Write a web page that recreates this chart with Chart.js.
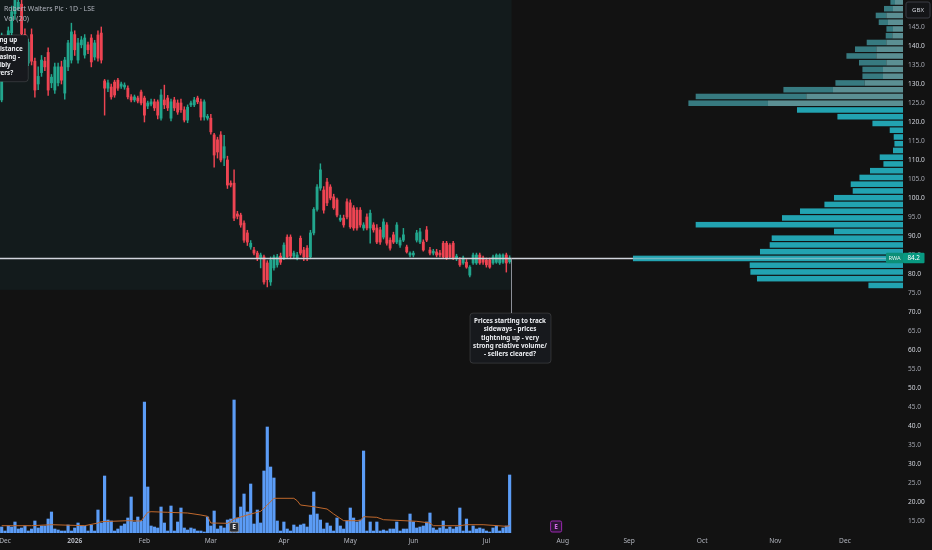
<!DOCTYPE html>
<html>
<head>
<meta charset="utf-8">
<script src="https://cdn.jsdelivr.net/npm/chart.js@4.4.1/dist/chart.umd.min.js"></script>
<style>
    html, body { margin: 0; padding: 0; background: #121212; }
    canvas { display: block; }
</style>
</head>
<body>
<canvas id="rwaChart" width="932" height="550"></canvas>
<script>
(function () {
    "use strict";
    // Robert Walters Plc daily bars, bar -1 = 28 Nov 2025, bar 152 = 10 Jul 2026
    const firstBar = -1;
    const open = [125.8, 136, 140, 143.5, 148.5, 150, 151, 143, 135.5, 143,
        136, 130, 133, 136, 138.3, 130.3, 128.4, 130.3, 134.5, 127.6,
        134.5, 136.3, 143, 136.3, 140.3, 137.6, 140.3, 142.1, 137.1, 142.9,
        143.4, 130.8, 128.9, 129.2, 130.5, 131, 129.4, 129.2, 128.9, 126.6,
        125.8, 126.3, 127.9, 126.3, 124.2, 124.7, 125.3, 125.3, 121, 125.8,
        126.3, 121, 125.8, 125, 125, 123.2, 120.5, 124.5, 124.5, 126.3,
        125.3, 121.3, 121, 121, 116.6, 115.3, 116.6, 110.5, 110, 103.9,
        103.9, 95.8, 95.5, 93.4, 90.8, 87.1, 86.3, 85.5, 84.2, 84.5,
        82.9, 77.9, 81.6, 82.4, 84.7, 84.2, 89.7, 89.7, 84.7, 84.2,
        89.4, 86.3, 86.8, 84.5, 90.8, 97, 102.6, 102.1, 104.2, 102.9,
        100.3, 99.5, 94.2, 94.7, 99, 98.7, 97.4, 96.8, 96.8, 92.1,
        95, 92.1, 92.9, 92.1, 91.6, 89.7, 92.9, 88.9, 90.3, 88.4,
        87.6, 88.9, 87.1, 85, 85, 88.9, 88.4, 88.4, 91.6, 86.3,
        85.5, 85.8, 85.5, 88.1, 88.1, 87.6, 88.1, 84.2, 83.7, 82.9,
        83.1, 79.7, 82.9, 82.9, 85, 84.2, 83.7, 83.7, 82.9, 83.1,
        82.9, 83.1, 85, 83.2];
    const high = [143.4, 141.5, 145, 150.5, 153, 153.5, 152.5, 144.5, 141.8, 144.5,
        136.8, 134.5, 137.5, 137, 139.5, 132.5, 135.5, 135.5, 136, 137,
        141.5, 146, 144, 142, 142.5, 143, 141, 143, 141.5, 144,
        145, 131.2, 131, 130, 131, 131.5, 130.5, 130.3, 129.5, 127.2,
        127.1, 126.8, 128.4, 126.8, 125.5, 126, 126, 125.8, 128.5, 129.7,
        127, 126, 126.5, 125.8, 126, 124, 124.5, 125.5, 126.5, 126.8,
        126, 125.8, 122, 122, 117, 116, 117.5, 116.5, 111, 104.5,
        107.4, 96.5, 96, 94, 91.5, 88.8, 87, 86, 85.5, 85,
        83.5, 84.5, 85, 85.2, 85.5, 88.2, 90.3, 90.3, 86, 85.7,
        90, 87, 87.5, 91.5, 97.5, 103.5, 109, 103, 105.2, 103.5,
        101, 100, 95.5, 95.5, 99.8, 99.5, 98, 97.5, 97.5, 93.5,
        95.8, 96.8, 93.5, 93, 92.3, 94.5, 93.5, 89.5, 91, 93.5,
        89.5, 92, 87.6, 85.8, 86, 91.5, 92, 89, 92.5, 87,
        86.5, 86.5, 86.2, 88.6, 88.6, 88, 88.6, 85.2, 84.3, 84.7,
        83.8, 82.2, 85.5, 85.5, 85.5, 84.7, 84.2, 84.2, 85, 85.3,
        85.3, 85.3, 85.5, 84.8];
    const low = [125.3, 134, 138.5, 142, 147, 149.5, 142, 136, 134.8, 135,
        126.5, 128.5, 132, 133.5, 127, 129, 127.5, 129.5, 130, 126,
        133.5, 135.5, 137.5, 135.5, 139.5, 136.8, 138, 134.5, 136.3, 136,
        135.5, 121.8, 128, 126, 126.5, 128.3, 128.8, 128.6, 126.1, 125.3,
        125.3, 125, 124.5, 120, 123.5, 124.2, 123, 120.8, 120.5, 123.5,
        123, 120.3, 123, 122, 122.5, 120, 119.8, 124, 124, 124.8,
        120.5, 120.5, 120.5, 116.8, 108.1, 110.5, 109.5, 108.5, 102.5, 102.9,
        94, 94.5, 92.3, 88.3, 87.5, 86.5, 85, 83.5, 81.6, 77.3,
        76.6, 77, 81, 81.8, 82.5, 83.8, 84, 84, 84.2, 83.7,
        85, 83.5, 83.5, 84, 90.3, 96.5, 102, 96, 98, 99.5,
        97, 95, 93.8, 92.3, 94.5, 92, 91.5, 91.5, 92.3, 91.5,
        91.6, 88.1, 91, 88, 87.8, 89.2, 87.6, 86.3, 88, 88,
        87, 88.5, 85.5, 84.5, 84.5, 88.4, 88, 86, 88.5, 85,
        85, 84.5, 84.5, 84, 83.8, 84, 83.8, 83.5, 82, 82.5,
        81.5, 79.2, 82.5, 82.5, 82.5, 82.5, 81.8, 81.5, 82.5, 82.8,
        82.5, 82.8, 80.5, 82.8];
    const close = [136.3, 140.5, 144, 149, 152, 151.5, 143.2, 136.8, 141, 136,
        128.4, 132, 136.3, 134.5, 128.4, 131.8, 134.5, 134.5, 131, 136.3,
        140.8, 143.7, 139, 140.8, 141.6, 142.1, 139, 135.8, 140.8, 136.8,
        136.3, 128.9, 130.3, 126.6, 127.1, 128.9, 130, 129.7, 126.6, 125.8,
        126.6, 125.5, 125, 121.8, 125, 125.3, 123.7, 121.8, 127.1, 124.5,
        123.7, 125.3, 123.7, 122.6, 123.2, 120.5, 123.9, 125, 125.8, 125.3,
        121.3, 125.3, 121.5, 117.4, 111.3, 112.1, 110, 113.5, 103.4, 103.4,
        94.7, 95.2, 92.9, 88.9, 88.4, 88.1, 85.5, 84.2, 85, 77.9,
        78.5, 83.7, 84.5, 84.5, 83.1, 87.6, 84.5, 84.7, 85.5, 85,
        85.5, 84.5, 84.5, 90.8, 97, 102.9, 107.4, 96.8, 98.7, 100,
        97.4, 95.5, 94.7, 92.9, 95, 92.4, 92.1, 92.1, 92.9, 92.9,
        92.1, 96, 91.6, 88.4, 88.4, 93.7, 88.1, 86.8, 88.4, 92.9,
        88.9, 90.3, 85.8, 85.5, 85.5, 90.8, 91.1, 86.3, 88.9, 85.5,
        86, 85, 85, 84.5, 84.2, 84.5, 84.2, 84.7, 82.4, 84.2,
        81.8, 81.8, 85, 85, 82.9, 83.1, 82.4, 81.8, 84.5, 85,
        85, 85, 82.9, 84.2];
    // daily volume, thousands of shares
    const volume = [60, 20, 70, 60, 110, 40, 50, 70, 20, 40,
        120, 50, 70, 70, 140, 210, 40, 30, 20, 20,
        80, 20, 50, 100, 70, 70, 20, 80, 20, 230,
        100, 570, 130, 120, 20, 40, 70, 90, 150, 360,
        110, 160, 120, 1310, 460, 70, 60, 50, 260, 100,
        20, 270, 20, 110, 250, 50, 30, 50, 40, 20,
        20, 10, 160, 70, 220, 40, 70, 50, 130, 140,
        1330, 150, 260, 390, 210, 490, 90, 230, 100, 620,
        1060, 660, 550, 120, 20, 110, 40, 20, 80, 60,
        80, 90, 60, 180, 410, 190, 130, 40, 100, 70,
        20, 150, 70, 40, 120, 250, 150, 110, 130, 820,
        20, 110, 20, 110, 20, 30, 20, 40, 40, 110,
        20, 40, 40, 190, 110, 50, 60, 70, 110, 200,
        50, 30, 50, 120, 40, 60, 40, 60, 250, 20,
        140, 20, 70, 40, 50, 40, 20, 10, 50, 70,
        20, 50, 70, 580];
    // volume moving average
    const volMaBars = [-1, 8, 14, 24, 28, 29, 37, 41, 43, 44,
        49, 55, 59, 61, 62, 67, 69, 73, 77, 79,
        81, 87, 88, 89, 93, 97, 99, 102, 107, 108,
        112, 114, 124, 128, 129, 137, 139, 144, 151, 152];
    const volMa = [73, 73, 83, 73, 100, 113, 123, 120, 207, 213,
        207, 200, 180, 167, 100, 97, 140, 180, 217, 280,
        347, 347, 323, 280, 263, 240, 190, 123, 123, 163,
        157, 133, 117, 100, 73, 73, 83, 83, 67, 73];
    // time axis
    const monthStarts = [0, 21, 42, 62, 84, 104, 123, 145, 168, 188, 210, 232, 253];
    const monthLabels = ['Dec', '2026', 'Feb', 'Mar', 'Apr', 'May', 'Jun', 'Jul', 'Aug', 'Sep', 'Oct', 'Nov', 'Dec'];
    // price axis
    const priceTicks = [145, 140, 135, 130, 125, 120, 115, 110, 105, 100, 95, 90, 85, 80,
        75, 70, 65, 60, 55, 50, 45, 40, 35, 30, 25, 20, 15];
    const priceTickLabels = ['145.0', '140.0', '135.0', '130.0', '125.0', '120.0', '115.0', '110.0',
        '105.0', '100.0', '95.0', '90.0', '85.0', '80.0', '75.0', '70.0', '65.0', '60.0', '55.0',
        '50.0', '45.0', '40.0', '35.0', '30.0', '25.0', '20.00', '15.00'];
    // visible range volume profile (row lower bound, total, selling part above value area)
    const profileLow = [76.1, 77.88, 79.65, 81.43, 83.2, 84.98, 86.76, 88.53, 90.31, 92.08,
        93.86, 95.64, 97.41, 99.19, 100.96, 102.74, 104.52, 106.29, 108.07, 109.84,
        111.62, 113.4, 115.17, 116.95, 118.72, 120.5, 122.28, 124.05, 125.83, 127.6,
        129.38, 131.16, 132.93, 134.71, 136.48, 138.26, 140.04, 141.81, 143.59, 145.36,
        147.14, 148.92, 150.69];
    const profileVol = [242, 1022, 1068, 1073, 1890, 1001, 933, 919, 483, 1451,
        847, 721, 550, 483, 352, 366, 305, 231, 137, 163,
        70, 60, 65, 93, 214, 459, 742, 1502, 1451, 837,
        473, 284, 284, 308, 396, 336, 254, 121, 116, 170,
        191, 133, 88];
    const profileSell = [null, null, null, null, null, null, null, null, null, null,
        null, null, null, null, null, null, null, null, null, null,
        null, null, null, null, null, null, null, 945, 677, 490,
        268, 140, 140, 117, 187, 187, 117, 75, 70, 105,
        117, 70, 56];
    const valueAreaHigh = 124.05;
    const earningsBars = [69, 166];
    const calloutLines = ['Prices starting to track', 'sideways - prices', 'tightning up - very',
        'strong relative volume/', '- sellers cleared?'];
    const noteLines = ['Prices testing up', 'against resistance', 'volume increasing -', '- possibly', 'buyers?'];

    const bars = open.map(function (el, k) { return firstBar + k; });
    const lastClose = close[close.length - 1];
    const lastBar = bars[bars.length - 1];
    const upColor = '#22a68d';
    const downColor = '#ee4452';
    const family = "'Noto Sans', 'DejaVu Sans', sans-serif";

    function fitFont(c, text, width, weight) {
        c.font = weight + ' 20px ' + family;
        const size = 20 * width / c.measureText(text).width;
        return weight + ' ' + size.toFixed(2) + 'px ' + family;
    }
    function box(c, x, y, w, h, r, fill, stroke) {
        c.beginPath();
        c.roundRect(x, y, w, h, r);
        c.fillStyle = fill;
        c.fill();
        if (stroke) {
            c.strokeStyle = stroke;
            c.lineWidth = 1;
            c.stroke();
        }
    }

    const overlay = {
        id: 'overlay',
        beforeDraw: function (chart) {
            const c = chart.ctx;
            const xs = chart.scales.x;
            const ys = chart.scales.y;
            c.save();
            c.fillStyle = '#121212';
            c.fillRect(0, 0, chart.width, chart.height);
            // highlighted range behind the candles
            const left = xs.getPixelForValue(-2);
            const right = xs.getPixelForValue(lastBar + 0.6);
            const bottom = ys.getPixelForValue(75.8);
            c.fillStyle = '#131b1c';
            c.fillRect(left, 0, right - left, bottom);
            c.restore();
        },
        beforeDatasetsDraw: function (chart) {
            const c = chart.ctx;
            const ys = chart.scales.y;
            const xp = chart.scales.xp;
            const area = chart.chartArea;
            c.save();
            c.beginPath();
            c.rect(area.left, area.top, area.right - area.left, area.bottom - area.top);
            c.clip();
            profileLow.forEach(function (lo, k) {
                const step = k < profileLow.length - 1 ? profileLow[k + 1] - lo : lo - profileLow[k - 1];
                const top = ys.getPixelForValue(lo + step) + 0.6;
                const h = ys.getPixelForValue(lo) - top - 0.6;
                const x0 = xp.getPixelForValue(0);
                const x1 = xp.getPixelForValue(profileVol[k]);
                if (lo < valueAreaHigh) {
                    c.fillStyle = '#22a3b1';
                    c.fillRect(x1, top, x0 - x1, h);
                } else {
                    const xs = xp.getPixelForValue(profileSell[k]);
                    c.fillStyle = '#377a80';
                    c.fillRect(x1, top, xs - x1, h);
                    c.fillStyle = '#5b8f93';
                    c.fillRect(xs, top, x0 - xs, h);
                }
            });
            c.restore();
        },
        afterDatasetsDraw: function (chart) {
            const c = chart.ctx;
            const xs = chart.scales.x;
            const ys = chart.scales.y;
            const xp = chart.scales.xp;
            const area = chart.chartArea;
            const py = Math.round(ys.getPixelForValue(lastClose)) + 0.5;
            const pocLeft = xp.getPixelForValue(Math.max.apply(null, profileVol));
            c.save();
            // price line
            c.strokeStyle = '#d1d4dc';
            c.lineWidth = 1.6;
            c.beginPath();
            c.moveTo(0, py);
            c.lineTo(pocLeft, py);
            c.stroke();
            c.strokeStyle = 'rgba(209, 212, 220, 0.45)';
            c.beginPath();
            c.moveTo(pocLeft, py);
            c.lineTo(area.right, py);
            c.stroke();
            // callout
            const cx = Math.round(xs.getPixelForValue(lastBar + 0.3)) + 0.5;
            const boxTop = ys.getPixelForValue(69.7);
            c.strokeStyle = '#8c8f97';
            c.lineWidth = 1;
            c.beginPath();
            c.moveTo(cx, py);
            c.lineTo(cx, boxTop);
            c.stroke();
            const textFont = fitFont(c, calloutLines[3], 74, 'bold');
            box(c, cx - 41.5, boxTop, 81, 50, 3, '#17191d', 'rgba(255, 255, 255, 0.13)');
            c.font = textFont;
            c.fillStyle = '#eceef2';
            c.textAlign = 'center';
            c.textBaseline = 'middle';
            calloutLines.forEach(function (t, k) {
                c.fillText(t, cx - 1.5, boxTop + 8 + k * 8.35);
            });
            // note box cut by the left edge
            const noteTop = ys.getPixelForValue(142.9);
            const noteBottom = ys.getPixelForValue(130.6);
            const noteRight = xs.getPixelForValue(7);
            box(c, noteRight - 110, noteTop, 110, noteBottom - noteTop, 3, '#17191d', 'rgba(255, 255, 255, 0.13)');
            c.font = textFont;
            c.fillStyle = '#eceef2';
            c.textAlign = 'right';
            const noteEnds = [-11, -5.6, -8.3, -17.6, -15];
            noteLines.forEach(function (t, k) {
                c.fillText(t, noteRight + noteEnds[k], noteTop + 5.7 + k * 8.25);
            });
            // header
            c.textAlign = 'left';
            c.fillStyle = '#b2b5be';
            c.font = fitFont(c, 'Robert Walters Plc \u00b7 1D \u00b7 LSE', 91, 'normal');
            c.fillText('Robert Walters Plc \u00b7 1D \u00b7 LSE', 4, 9.5);
            c.font = fitFont(c, 'Vol (20)', 25, 'normal');
            c.fillText('Vol (20)', 4, 19.3);
            // earnings markers
            earningsBars.forEach(function (b) {
                const ex = xs.getPixelForValue(b);
                const future = b > lastBar;
                const w = future ? 11 : 9;
                box(c, ex - w / 2, future ? 521 : 522.5, w, future ? 11 : 9.5, 1.5,
                    future ? '#2b1634' : '#2a2d34', future ? '#9c27b0' : '#8a8d95');
                c.fillStyle = future ? '#d36be6' : '#e8e8ea';
                c.font = 'bold 6.5px ' + family;
                c.textAlign = 'center';
                c.fillText('E', ex, future ? 526.7 : 527.4);
            });
            c.restore();
        },
        afterDraw: function (chart) {
            const c = chart.ctx;
            const ys = chart.scales.y;
            const area = chart.chartArea;
            const py = ys.getPixelForValue(lastClose);
            c.save();
            c.textBaseline = 'middle';
            c.textAlign = 'center';
            box(c, area.right - 17, py - 5.3, 17, 10.6, 1, '#0c8f78');
            box(c, area.right, py - 5.3, 21.5, 10.6, 1, '#089981');
            c.fillStyle = '#e6f2ef';
            c.font = fitFont(c, 'RWA', 12, 'normal');
            c.fillText('RWA', area.right - 8.5, py + 0.3);
            c.fillStyle = '#ffffff';
            c.font = fitFont(c, '84.2', 12.5, 'normal');
            c.fillText(lastClose.toFixed(1), area.right + 10.7, py + 0.3);
            // currency badge
            box(c, 906, 2, 24, 16, 2, '#141518', '#3a3d45');
            c.fillStyle = '#d1d4dc';
            c.font = fitFont(c, 'GBX', 12, 'normal');
            c.fillText('GBX', 918, 10.3);
            c.restore();
        }
    };

    const context = document.getElementById('rwaChart').getContext('2d');
    const chart = new Chart(context, {
        type: 'bar',
        data: {
            datasets: [{
                label: 'Body',
                data: bars.map(function (b, k) { return { x: b, y: [open[k], close[k]] }; }),
                backgroundColor: function (ctx) {
                    return close[ctx.dataIndex] >= open[ctx.dataIndex] ? upColor : downColor;
                },
                barThickness: 2.2,
                minBarLength: 1,
                grouped: false,
                order: 0
            }, {
                label: 'Wick',
                data: bars.map(function (b, k) { return { x: b, y: [low[k], high[k]] }; }),
                backgroundColor: function (ctx) {
                    return close[ctx.dataIndex] >= open[ctx.dataIndex] ? upColor : downColor;
                },
                barThickness: 0.8,
                grouped: false,
                order: 1
            }, {
                type: 'line',
                label: 'Volume MA',
                data: volMaBars.map(function (b, k) { return { x: b, y: volMa[k] }; }),
                yAxisID: 'yv',
                borderColor: '#c0682c',
                borderWidth: 1,
                pointRadius: 0,
                tension: 0,
                order: 2
            }, {
                label: 'Volume',
                data: bars.map(function (b, k) { return { x: b, y: volume[k] }; }),
                yAxisID: 'yv',
                backgroundColor: '#5b9cf6',
                barThickness: 2.5,
                grouped: false,
                order: 3
            }]
        },
        options: {
            responsive: false,
            animation: false,
            events: [],
            layout: { padding: 0 },
            scales: {
                x: {
                    type: 'linear',
                    min: -1.506,
                    max: 270.48,
                    offset: false,
                    grid: { display: false, offset: false, drawTicks: false },
                    border: { display: false },
                    afterBuildTicks: function (scale) {
                        scale.ticks = monthStarts.map(function (v) { return { value: v }; });
                    },
                    afterFit: function (scale) {
                        scale.height = 17;
                        scale.paddingLeft = 0;
                        scale.paddingRight = 0;
                    },
                    ticks: {
                        autoSkip: false,
                        maxRotation: 0,
                        padding: 4,
                        color: '#b2b5be',
                        font: function (ctx) {
                            return { family: family, size: 6.6, weight: ctx.index === 1 ? 'bold' : 'normal' };
                        },
                        callback: function (value, index) {
                            return monthLabels[index];
                        }
                    }
                },
                xp: {
                    type: 'linear',
                    display: false,
                    offset: false,
                    reverse: true,
                    min: 0,
                    max: 6320
                },
                y: {
                    type: 'linear',
                    position: 'right',
                    min: 11.84,
                    max: 152.1,
                    grid: { display: false, drawTicks: false },
                    border: { display: false },
                    afterBuildTicks: function (scale) {
                        scale.ticks = priceTicks.map(function (v) { return { value: v }; });
                    },
                    afterFit: function (scale) {
                        scale.width = 29;
                        scale.paddingTop = 0;
                        scale.paddingBottom = 0;
                    },
                    ticks: {
                        autoSkip: false,
                        padding: 5,
                        color: function (ctx) {
                            return ctx.tick && ctx.tick.value % 10 === 0 ? '#d1d4dc' : '#a3a6af';
                        },
                        font: { family: family, size: 6.6 },
                        callback: function (value, index) {
                            return priceTickLabels[index];
                        }
                    }
                },
                yv: {
                    type: 'linear',
                    display: false,
                    min: 0,
                    max: 5330
                }
            },
            plugins: {
                legend: { display: false },
                tooltip: { enabled: false }
            }
        },
        plugins: [overlay]
    });
}());
</script>
</body>
</html>
